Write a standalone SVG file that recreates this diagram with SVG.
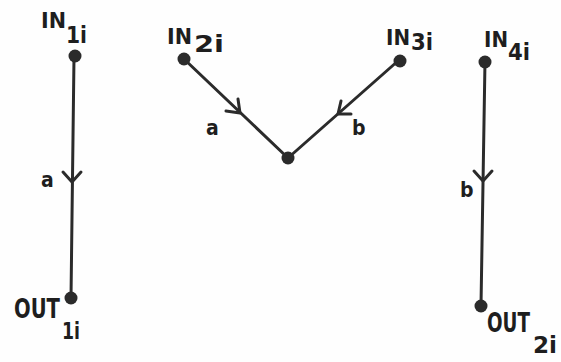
<svg xmlns="http://www.w3.org/2000/svg" width="561" height="362" viewBox="0 0 561 362">
<style>
.e{stroke:#2b2b2b;stroke-width:3;fill:none;stroke-linecap:round}
.h{stroke:#2b2b2b;stroke-width:3;fill:none;stroke-linecap:round;stroke-linejoin:round}
.d{fill:#2b2b2b}
text{font-family:"DejaVu Sans Condensed","DejaVu Sans",sans-serif;font-weight:bold;fill:#1e1e1e}
.m{font-size:21px}
.s{font-size:23px}
.o{font-size:26px}
.l{font-size:21px}
</style>
<rect width="561" height="362" fill="#fefefe"/>
<g id="connectors">
<line class="e" x1="74" y1="57" x2="71" y2="298"/>
<polyline class="h" points="63,172 72,182 81,172"/>
<line class="e" x1="184" y1="59" x2="288" y2="158"/>
<polyline class="h" points="226,111 240,113 238,99"/>
<line class="e" x1="399" y1="60" x2="288" y2="158"/>
<polyline class="h" points="351,114 338,114 341,101"/>
<line class="e" x1="485" y1="61" x2="481" y2="306"/>
<polyline class="h" points="474,171 483,181 492,171"/>
</g>
<g id="IN1i"><circle class="d" cx="75" cy="56" r="6.5"/><text class="m" x="41" y="28" textLength="25" lengthAdjust="spacingAndGlyphs">IN</text><text class="s" x="66" y="43" textLength="21" lengthAdjust="spacingAndGlyphs">1i</text></g>
<g id="IN2i"><circle class="d" cx="184" cy="59" r="6.5"/><text class="m" x="167" y="44" textLength="25" lengthAdjust="spacingAndGlyphs">IN</text><text class="s" x="194" y="52" textLength="30" lengthAdjust="spacingAndGlyphs">2i</text></g>
<g id="IN3i"><circle class="d" cx="400" cy="61" r="6.5"/><text class="m" x="386" y="45" textLength="24" lengthAdjust="spacingAndGlyphs">IN</text><text class="s" x="411" y="50" textLength="22" lengthAdjust="spacingAndGlyphs">3i</text></g>
<g id="IN4i"><circle class="d" cx="485" cy="62" r="6.5"/><text class="m" x="484" y="47" textLength="24" lengthAdjust="spacingAndGlyphs">IN</text><text class="s" x="508" y="60" textLength="22" lengthAdjust="spacingAndGlyphs">4i</text></g>
<g id="V"><circle class="d" cx="288" cy="158" r="6.5"/></g>
<g id="OUT1i"><circle class="d" cx="71" cy="298" r="6.5"/><text class="o" x="14" y="318" textLength="46" lengthAdjust="spacingAndGlyphs">OUT</text><text class="s" x="62" y="339" font-size="24" textLength="18" lengthAdjust="spacingAndGlyphs">1i</text></g>
<g id="OUT2i"><circle class="d" cx="481" cy="306" r="6.5"/><text class="o" x="487" y="332" textLength="43" lengthAdjust="spacingAndGlyphs">OUT</text><text class="s" x="533" y="353" font-size="30" textLength="24" lengthAdjust="spacingAndGlyphs">2i</text></g>
<g id="labels">
<text class="l" x="41" y="187">a</text>
<text class="l" x="206" y="135">a</text>
<text class="l" x="352" y="135">b</text>
<text class="l" x="460" y="197">b</text>
</g>
</svg>
